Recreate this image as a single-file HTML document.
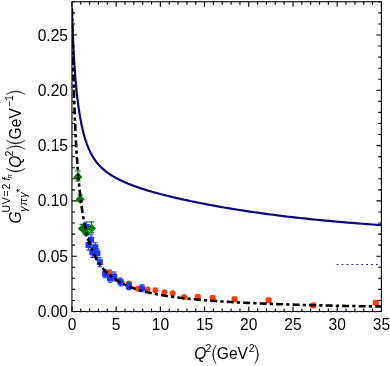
<!DOCTYPE html>
<html><head><meta charset="utf-8"><style>html,body{margin:0;padding:0;background:#fff;width:390px;height:366px;overflow:hidden}</style></head><body>
<svg width="390" height="366" viewBox="0 0 390 366" style="position:absolute;left:0;top:0">
<rect width="390" height="366" fill="#fff"/>
<defs><clipPath id="c"><rect x="71.95" y="1.75" width="309.45" height="309.75"/></clipPath></defs>
<g clip-path="url(#c)">
<path d="M336.6,264.5 H379" stroke="#2a2ab8" stroke-width="1" stroke-dasharray="1.9,3.02" fill="none"/>
<path d="M71.90,7.56 L71.93,8.68 L71.97,9.79 L72.00,10.91 L72.03,12.03 L72.07,13.16 L72.10,14.28 L72.14,15.41 L72.18,16.54 L72.22,17.67 L72.25,18.81 L72.29,19.95 L72.33,21.09 L72.37,22.23 L72.41,23.37 L72.45,24.52 L72.50,25.66 L72.54,26.81 L72.58,27.96 L72.63,29.11 L72.67,30.26 L72.72,31.42 L72.77,32.57 L72.81,33.73 L72.86,34.88 L72.91,36.04 L72.96,37.20 L73.01,38.36 L73.06,39.51 L73.12,40.67 L73.17,41.83 L73.23,43.00 L73.28,44.16 L73.34,45.32 L73.39,46.48 L73.45,47.64 L73.51,48.80 L73.57,49.96 L73.63,51.12 L73.70,52.28 L73.76,53.44 L73.83,54.60 L73.89,55.76 L73.96,56.92 L74.03,58.08 L74.10,59.23 L74.17,60.39 L74.24,61.55 L74.31,62.70 L74.39,63.85 L74.46,65.00 L74.54,66.15 L74.62,67.30 L74.70,68.45 L74.78,69.59 L74.86,70.74 L74.94,71.88 L75.03,73.02 L75.11,74.16 L75.20,75.30 L75.29,76.43 L75.38,77.56 L75.48,78.69 L75.57,79.82 L75.67,80.95 L75.76,82.07 L75.86,83.19 L75.96,84.31 L76.07,85.42 L76.17,86.53 L76.28,87.64 L76.38,88.75 L76.49,89.85 L76.61,90.95 L76.72,92.04 L76.84,93.14 L76.95,94.23 L77.07,95.31 L77.20,96.40 L77.32,97.47 L77.45,98.55 L77.57,99.62 L77.70,100.69 L77.84,101.75 L77.97,102.81 L78.11,103.86 L78.25,104.91 L78.39,105.96 L78.53,107.00 L78.68,108.04 L78.83,109.07 L78.98,110.10 L79.14,111.12 L79.30,112.14 L79.46,113.15 L79.62,114.16 L79.78,115.16 L79.95,116.16 L80.12,117.16 L80.30,118.14 L80.48,119.12 L80.66,120.10 L80.84,121.07 L81.03,122.04 L81.22,122.99 L81.41,123.95 L81.60,124.89 L81.80,125.84 L82.01,126.77 L82.21,127.70 L82.42,128.62 L82.64,129.54 L82.86,130.45 L83.08,131.35 L83.30,132.25 L83.53,133.14 L83.77,134.02 L84.00,134.90 L84.24,135.76 L84.49,136.63 L84.74,137.48 L84.99,138.33 L85.25,139.17 L85.51,140.00 L85.78,140.83 L86.05,141.64 L86.33,142.45 L86.61,143.26 L86.89,144.05 L87.19,144.84 L87.48,145.62 L87.78,146.39 L88.09,147.15 L88.40,147.90 L88.72,148.65 L89.04,149.39 L89.37,150.12 L89.70,150.84 L90.04,151.55 L90.38,152.25 L90.74,152.95 L91.09,153.64 L91.46,154.32 L91.83,154.99 L92.20,155.66 L92.58,156.31 L92.97,156.96 L93.37,157.60 L93.77,158.24 L94.18,158.86 L94.60,159.48 L95.02,160.09 L95.45,160.70 L95.89,161.30 L96.33,161.89 L96.79,162.47 L97.25,163.04 L97.72,163.61 L98.19,164.17 L98.68,164.73 L99.17,165.28 L99.68,165.82 L100.19,166.35 L100.71,166.88 L101.24,167.40 L101.77,167.91 L102.32,168.42 L102.88,168.93 L103.44,169.42 L104.02,169.91 L104.60,170.40 L105.20,170.88 L105.81,171.35 L106.42,171.83 L107.05,172.29 L107.69,172.76 L108.34,173.21 L109.00,173.67 L109.67,174.12 L110.35,174.57 L111.05,175.02 L111.75,175.46 L112.47,175.90 L113.20,176.34 L113.95,176.78 L114.70,177.21 L115.47,177.64 L116.26,178.07 L117.05,178.50 L117.86,178.93 L118.69,179.35 L119.53,179.77 L120.38,180.19 L121.25,180.61 L122.13,181.03 L123.03,181.44 L123.94,181.86 L124.87,182.27 L125.81,182.68 L126.77,183.09 L127.75,183.50 L128.74,183.91 L129.76,184.31 L130.79,184.72 L131.83,185.12 L132.90,185.53 L133.98,185.93 L135.08,186.33 L136.20,186.73 L137.34,187.13 L138.50,187.54 L139.68,187.94 L140.88,188.34 L142.10,188.74 L143.34,189.14 L144.60,189.54 L145.89,189.94 L147.20,190.34 L148.53,190.74 L149.88,191.14 L151.25,191.54 L152.65,191.94 L154.07,192.34 L155.52,192.74 L156.99,193.15 L158.49,193.55 L160.02,193.95 L161.57,194.36 L163.14,194.77 L164.75,195.17 L166.38,195.58 L168.04,195.99 L169.73,196.40 L171.44,196.82 L173.19,197.23 L174.97,197.65 L176.77,198.06 L178.61,198.48 L180.48,198.90 L182.38,199.32 L184.32,199.75 L186.29,200.17 L188.29,200.60 L190.33,201.03 L192.40,201.46 L194.51,201.90 L196.65,202.33 L198.83,202.77 L201.05,203.21 L203.30,203.66 L205.60,204.10 L207.93,204.55 L210.31,204.99 L212.72,205.44 L215.18,205.89 L217.68,206.35 L220.22,206.80 L222.81,207.25 L225.44,207.71 L228.12,208.16 L230.84,208.62 L233.61,209.07 L236.43,209.53 L239.29,209.98 L242.21,210.44 L245.17,210.90 L248.19,211.35 L251.26,211.80 L254.38,212.26 L257.55,212.71 L260.78,213.16 L264.07,213.61 L267.41,214.06 L270.81,214.51 L274.26,214.96 L277.78,215.40 L281.36,215.85 L285.00,216.29 L288.70,216.73 L292.47,217.16 L296.30,217.60 L300.19,218.03 L304.16,218.46 L308.19,218.88 L312.29,219.31 L316.46,219.73 L320.70,220.15 L325.02,220.56 L329.41,220.97 L333.88,221.38 L338.42,221.78 L343.04,222.18 L347.74,222.57 L352.53,222.96 L357.39,223.35 L362.34,223.73 L367.37,224.11 L372.49,224.48 L377.70,224.85 L383.00,225.21" stroke="#0b0b80" stroke-width="2.2" fill="none" stroke-linejoin="round"/>
</g>
<circle cx="109.5" cy="272.2" r="3.0" fill="#ff3d0a"/>
<circle cx="113.9" cy="277.0" r="2.4" fill="#ff3d0a"/>
<circle cx="118.2" cy="280.5" r="2.4" fill="#ff3d0a"/>
<circle cx="122.6" cy="283.0" r="2.4" fill="#ff3d0a"/>
<circle cx="129.0" cy="283.4" r="3.0" fill="#ff3d0a"/>
<circle cx="138.0" cy="288.7" r="3.0" fill="#ff3d0a"/>
<circle cx="147.5" cy="289.6" r="3.0" fill="#ff3d0a"/>
<circle cx="155.4" cy="290.3" r="3.0" fill="#ff3d0a"/>
<circle cx="164.4" cy="292.2" r="3.0" fill="#ff3d0a"/>
<circle cx="172.7" cy="293.2" r="3.0" fill="#ff3d0a"/>
<circle cx="184.2" cy="297.1" r="3.0" fill="#ff3d0a"/>
<circle cx="313.3" cy="305.4" r="3.2" fill="#ff3d0a"/>
<rect x="194.7" y="294.0" width="6" height="6" rx="1.6" fill="#ff3d0a"/>
<rect x="209.7" y="295.0" width="6" height="6" rx="1.6" fill="#ff3d0a"/>
<rect x="231.6" y="296.2" width="6" height="6" rx="1.6" fill="#ff3d0a"/>
<rect x="265.6" y="297.3" width="6" height="6" rx="1.6" fill="#ff3d0a"/>
<rect x="372.9" y="299.8" width="6" height="6" rx="1.6" fill="#ff3d0a"/>
<path d="M86.6,222.0V232.0M84.4,222.0h4.4M84.4,232.0h4.4" stroke="#1a38ff" stroke-width="1.1" fill="none"/>
<rect x="83.6" y="224.0" width="6" height="6" fill="#1a38ff"/>
<path d="M88.5,240.0V250.0M86.3,240.0h4.4M86.3,250.0h4.4" stroke="#1a38ff" stroke-width="1.1" fill="none"/>
<rect x="85.5" y="242.0" width="6" height="6" fill="#1a38ff"/>
<path d="M91.0,234.7V244.7M88.8,234.7h4.4M88.8,244.7h4.4" stroke="#1a38ff" stroke-width="1.1" fill="none"/>
<rect x="88.0" y="236.7" width="6" height="6" fill="#1a38ff"/>
<path d="M92.4,247.4V257.4M90.2,247.4h4.4M90.2,257.4h4.4" stroke="#1a38ff" stroke-width="1.1" fill="none"/>
<rect x="89.4" y="249.4" width="6" height="6" fill="#1a38ff"/>
<path d="M95.3,242.8V251.8M93.1,242.8h4.4M93.1,251.8h4.4" stroke="#1a38ff" stroke-width="1.1" fill="none"/>
<rect x="92.3" y="244.3" width="6" height="6" fill="#1a38ff"/>
<path d="M97.4,248.7V257.7M95.2,248.7h4.4M95.2,257.7h4.4" stroke="#1a38ff" stroke-width="1.1" fill="none"/>
<rect x="94.4" y="250.2" width="6" height="6" fill="#1a38ff"/>
<path d="M99.8,257.7V266.7M97.6,257.7h4.4M97.6,266.7h4.4" stroke="#1a38ff" stroke-width="1.1" fill="none"/>
<rect x="96.8" y="259.2" width="6" height="6" fill="#1a38ff"/>
<path d="M105.1,269.8V277.8M102.9,269.8h4.4M102.9,277.8h4.4" stroke="#1a38ff" stroke-width="1.1" fill="none"/>
<rect x="102.1" y="270.8" width="6" height="6" fill="#1a38ff"/>
<path d="M110.0,274.2V282.2M107.8,274.2h4.4M107.8,282.2h4.4" stroke="#1a38ff" stroke-width="1.1" fill="none"/>
<rect x="107.0" y="275.2" width="6" height="6" fill="#1a38ff"/>
<path d="M114.2,272.0V281.0M112.0,272.0h4.4M112.0,281.0h4.4" stroke="#1a38ff" stroke-width="1.1" fill="none"/>
<rect x="111.2" y="273.5" width="6" height="6" fill="#1a38ff"/>
<path d="M120.5,278.0V286.0M118.3,278.0h4.4M118.3,286.0h4.4" stroke="#1a38ff" stroke-width="1.1" fill="none"/>
<rect x="117.5" y="279.0" width="6" height="6" fill="#1a38ff"/>
<path d="M128.9,282.6V289.6M126.7,282.6h4.4M126.7,289.6h4.4" stroke="#1a38ff" stroke-width="1.1" fill="none"/>
<rect x="125.9" y="283.1" width="6" height="6" fill="#1a38ff"/>
<path d="M141.9,284.8V291.8M139.7,284.8h4.4M139.7,291.8h4.4" stroke="#1a38ff" stroke-width="1.1" fill="none"/>
<rect x="138.9" y="285.3" width="6" height="6" fill="#1a38ff"/>
<path d="M77.9,171.0V181.0M75.1,171.0h5.6M75.1,181.0h5.6" stroke="#007d00" stroke-width="1.2" fill="none"/>
<path d="M73.3,177.0L77.9,172.5L82.5,177.0L77.9,181.5Z" fill="#007d00"/>
<path d="M80.2,195.0V201.4M77.4,195.0h5.6M77.4,201.4h5.6" stroke="#007d00" stroke-width="1.2" fill="none"/>
<path d="M75.6,199.2L80.2,194.7L84.8,199.2L80.2,203.7Z" fill="#007d00"/>
<path d="M82.4,224.4V230.4M79.6,224.4h5.6M79.6,230.4h5.6" stroke="#007d00" stroke-width="1.2" fill="none"/>
<path d="M77.8,228.4L82.4,223.9L87.0,228.4L82.4,232.9Z" fill="#007d00"/>
<path d="M86.2,228.8V234.8M83.4,228.8h5.6M83.4,234.8h5.6" stroke="#007d00" stroke-width="1.2" fill="none"/>
<path d="M81.6,232.8L86.2,228.3L90.8,232.8L86.2,237.3Z" fill="#007d00"/>
<path d="M91.5,221.8V232.8M88.7,221.8h5.6M88.7,232.8h5.6" stroke="#007d00" stroke-width="1.2" fill="none"/>
<path d="M86.9,228.3L91.5,223.8L96.1,228.3L91.5,232.8Z" fill="#007d00"/>
<g clip-path="url(#c)">
<path d="M71.95,8.46 L71.95,8.46 L71.95,8.49 L71.95,8.55 L71.95,8.64 L71.96,8.78 L71.96,8.96 L71.96,9.20 L71.97,9.49 L71.97,9.84 L71.98,10.25 L71.99,10.73 L72.00,11.28 L72.01,11.90 L72.02,12.59 L72.03,13.36 L72.05,14.20 L72.07,15.12 L72.08,16.11 L72.10,17.19 L72.12,18.35 L72.15,19.58 L72.17,20.90 L72.20,22.29 L72.22,23.77 L72.25,25.32 L72.28,26.95 L72.32,28.66 L72.35,30.44 L72.39,32.30 L72.43,34.23 L72.47,36.23 L72.51,38.30 L72.55,40.43 L72.60,42.63 L72.65,44.89 L72.70,47.21 L72.76,49.59 L72.81,52.01 L72.87,54.49 L72.93,57.02 L72.99,59.59 L73.06,62.20 L73.12,64.85 L73.19,67.54 L73.26,70.25 L73.34,73.00 L73.41,75.78 L73.49,78.57 L73.58,81.39 L73.66,84.22 L73.75,87.07 L73.84,89.93 L73.93,92.80 L74.02,95.67 L74.12,98.55 L74.22,101.42 L74.32,104.30 L74.43,107.17 L74.54,110.04 L74.65,112.89 L74.76,115.74 L74.88,118.57 L75.00,121.39 L75.12,124.20 L75.24,126.98 L75.37,129.75 L75.50,132.49 L75.64,135.21 L75.77,137.91 L75.91,140.59 L76.06,143.24 L76.20,145.86 L76.35,148.45 L76.51,151.02 L76.66,153.55 L76.82,156.06 L76.98,158.53 L77.15,160.98 L77.31,163.39 L77.49,165.77 L77.66,168.12 L77.84,170.43 L78.02,172.71 L78.20,174.96 L78.39,177.18 L78.58,179.36 L78.78,181.51 L78.98,183.63 L79.18,185.71 L79.38,187.76 L79.59,189.78 L79.80,191.76 L80.02,193.72 L80.23,195.64 L80.46,197.52 L80.68,199.38 L80.91,201.20 L81.14,202.99 L81.38,204.76 L81.62,206.49 L81.86,208.19 L82.11,209.86 L82.36,211.50 L82.62,213.11 L82.87,214.69 L83.14,216.25 L83.40,217.77 L83.67,219.27 L83.95,220.74 L84.22,222.19 L84.50,223.61 L84.79,225.00 L85.08,226.37 L85.37,227.71 L85.66,229.03 L85.96,230.32 L86.27,231.59 L86.58,232.83 L86.89,234.06 L87.20,235.26 L87.52,236.43 L87.85,237.59 L88.18,238.72 L88.51,239.84 L88.84,240.93 L89.18,242.00 L89.53,243.06 L89.88,244.09 L90.23,245.10 L90.58,246.10 L90.94,247.08 L91.31,248.04 L91.68,248.98 L92.05,249.90 L92.43,250.81 L92.81,251.70 L93.19,252.57 L93.58,253.43 L93.98,254.27 L94.38,255.10 L94.78,255.91 L95.19,256.71 L95.60,257.49 L96.01,258.26 L96.43,259.02 L96.86,259.76 L97.29,260.49 L97.72,261.20 L98.16,261.91 L98.60,262.60 L99.04,263.27 L99.50,263.94 L99.95,264.59 L100.41,265.23 L100.87,265.86 L101.34,266.48 L101.82,267.09 L102.29,267.69 L102.78,268.28 L103.26,268.86 L103.76,269.42 L104.25,269.98 L104.75,270.53 L105.26,271.07 L105.77,271.60 L106.28,272.12 L106.80,272.63 L107.33,273.13 L107.86,273.63 L108.39,274.11 L108.93,274.59 L109.47,275.06 L110.02,275.52 L110.57,275.98 L111.13,276.42 L111.69,276.86 L112.26,277.30 L112.83,277.72 L113.40,278.14 L113.99,278.55 L114.57,278.96 L115.16,279.35 L115.76,279.74 L116.36,280.13 L116.97,280.51 L117.58,280.88 L118.19,281.25 L118.81,281.61 L119.44,281.97 L120.07,282.32 L120.71,282.66 L121.35,283.00 L121.99,283.33 L122.64,283.66 L123.30,283.98 L123.96,284.30 L124.63,284.62 L125.30,284.92 L125.97,285.23 L126.65,285.53 L127.34,285.82 L128.03,286.11 L128.73,286.40 L129.43,286.68 L130.14,286.96 L130.85,287.23 L131.57,287.50 L132.29,287.76 L133.02,288.02 L133.75,288.28 L134.49,288.53 L135.23,288.78 L135.98,289.03 L136.74,289.27 L137.49,289.51 L138.26,289.75 L139.03,289.98 L139.80,290.21 L140.59,290.43 L141.37,290.65 L142.16,290.87 L142.96,291.09 L143.76,291.30 L144.57,291.51 L145.38,291.72 L146.20,291.92 L147.03,292.12 L147.86,292.32 L148.69,292.52 L149.53,292.71 L150.38,292.90 L151.23,293.09 L152.09,293.27 L152.95,293.46 L153.82,293.64 L154.69,293.81 L155.57,293.99 L156.46,294.16 L157.35,294.33 L158.24,294.50 L159.14,294.67 L160.05,294.83 L160.96,294.99 L161.88,295.15 L162.81,295.31 L163.74,295.47 L164.67,295.62 L165.61,295.77 L166.56,295.92 L167.51,296.07 L168.47,296.21 L169.44,296.36 L170.41,296.50 L171.38,296.64 L172.36,296.78 L173.35,296.91 L174.34,297.05 L175.34,297.18 L176.35,297.31 L177.36,297.44 L178.37,297.57 L179.40,297.70 L180.43,297.82 L181.46,297.94 L182.50,298.07 L183.54,298.19 L184.60,298.31 L185.65,298.42 L186.72,298.54 L187.79,298.65 L188.86,298.77 L189.94,298.88 L191.03,298.99 L192.13,299.10 L193.23,299.21 L194.33,299.31 L195.44,299.42 L196.56,299.52 L197.68,299.62 L198.81,299.73 L199.95,299.83 L201.09,299.93 L202.24,300.02 L203.39,300.12 L204.55,300.22 L205.72,300.31 L206.89,300.41 L208.07,300.50 L209.25,300.59 L210.45,300.68 L211.64,300.77 L212.85,300.86 L214.06,300.95 L215.27,301.03 L216.49,301.12 L217.72,301.20 L218.95,301.29 L220.20,301.37 L221.44,301.45 L222.70,301.53 L223.95,301.61 L225.22,301.69 L226.49,301.77 L227.77,301.84 L229.06,301.92 L230.35,302.00 L231.64,302.07 L232.95,302.15 L234.26,302.22 L235.57,302.29 L236.90,302.36 L238.23,302.43 L239.56,302.50 L240.90,302.57 L242.25,302.64 L243.61,302.71 L244.97,302.78 L246.33,302.84 L247.71,302.91 L249.09,302.97 L250.48,303.04 L251.87,303.10 L253.27,303.17 L254.68,303.23 L256.09,303.29 L257.51,303.35 L258.94,303.41 L260.37,303.47 L261.81,303.53 L263.25,303.59 L264.71,303.65 L266.17,303.70 L267.63,303.76 L269.10,303.82 L270.58,303.87 L272.07,303.93 L273.56,303.98 L275.06,304.04 L276.57,304.09 L278.08,304.14 L279.60,304.20 L281.12,304.25 L282.66,304.30 L284.19,304.35 L285.74,304.40 L287.29,304.45 L288.85,304.50 L290.42,304.55 L291.99,304.60 L293.57,304.65 L295.16,304.69 L296.75,304.74 L298.35,304.79 L299.96,304.83 L301.57,304.88 L303.19,304.93 L304.82,304.97 L306.45,305.01 L308.09,305.06 L309.74,305.10 L311.40,305.15 L313.06,305.19 L314.73,305.23 L316.40,305.27 L318.08,305.32 L319.77,305.36 L321.47,305.40 L323.17,305.44 L324.88,305.48 L326.60,305.52 L328.32,305.56 L330.06,305.60 L331.79,305.64 L333.54,305.67 L335.29,305.71 L337.05,305.75 L338.82,305.79 L340.59,305.82 L342.37,305.86 L344.16,305.90 L345.95,305.93 L347.75,305.97 L349.56,306.00 L351.38,306.04 L353.20,306.07 L355.03,306.11 L356.87,306.14 L358.71,306.18 L360.56,306.21 L362.42,306.24 L364.29,306.28 L366.16,306.31 L368.04,306.34 L369.93,306.37 L371.82,306.40 L373.72,306.44 L375.63,306.47 L377.55,306.50 L379.47,306.53 L381.40,306.56" stroke="#000" stroke-width="2.6" stroke-dasharray="7.0,3.1,3.3,3.1" stroke-dashoffset="0" fill="none"/>
</g>
<rect x="71.95" y="1.75" width="309.45" height="309.75" fill="none" stroke="#000" stroke-width="1.1"/>
<path d="M73.45,311.9H381.4" stroke="#3a3ab8" stroke-width="1" stroke-dasharray="2.2,4.2" fill="none" opacity="0.75"/>
<path d="M71.95,311.5v-5.0M71.95,1.75v5.0M80.79,311.5v-3.1M80.79,1.75v3.1M89.63,311.5v-3.1M89.63,1.75v3.1M98.47,311.5v-3.1M98.47,1.75v3.1M107.32,311.5v-3.1M107.32,1.75v3.1M116.16,311.5v-5.0M116.16,1.75v5.0M125.00,311.5v-3.1M125.00,1.75v3.1M133.84,311.5v-3.1M133.84,1.75v3.1M142.68,311.5v-3.1M142.68,1.75v3.1M151.52,311.5v-3.1M151.52,1.75v3.1M160.36,311.5v-5.0M160.36,1.75v5.0M169.21,311.5v-3.1M169.21,1.75v3.1M178.05,311.5v-3.1M178.05,1.75v3.1M186.89,311.5v-3.1M186.89,1.75v3.1M195.73,311.5v-3.1M195.73,1.75v3.1M204.57,311.5v-5.0M204.57,1.75v5.0M213.41,311.5v-3.1M213.41,1.75v3.1M222.25,311.5v-3.1M222.25,1.75v3.1M231.10,311.5v-3.1M231.10,1.75v3.1M239.94,311.5v-3.1M239.94,1.75v3.1M248.78,311.5v-5.0M248.78,1.75v5.0M257.62,311.5v-3.1M257.62,1.75v3.1M266.46,311.5v-3.1M266.46,1.75v3.1M275.30,311.5v-3.1M275.30,1.75v3.1M284.14,311.5v-3.1M284.14,1.75v3.1M292.99,311.5v-5.0M292.99,1.75v5.0M301.83,311.5v-3.1M301.83,1.75v3.1M310.67,311.5v-3.1M310.67,1.75v3.1M319.51,311.5v-3.1M319.51,1.75v3.1M328.35,311.5v-3.1M328.35,1.75v3.1M337.19,311.5v-5.0M337.19,1.75v5.0M346.03,311.5v-3.1M346.03,1.75v3.1M354.88,311.5v-3.1M354.88,1.75v3.1M363.72,311.5v-3.1M363.72,1.75v3.1M372.56,311.5v-3.1M372.56,1.75v3.1M381.40,311.5v-5.0M381.40,1.75v5.0M71.95,311.50h5.0M381.4,311.50h-5.0M71.95,300.44h3.1M381.4,300.44h-3.1M71.95,289.38h3.1M381.4,289.38h-3.1M71.95,278.32h3.1M381.4,278.32h-3.1M71.95,267.26h3.1M381.4,267.26h-3.1M71.95,256.20h5.0M381.4,256.20h-5.0M71.95,245.14h3.1M381.4,245.14h-3.1M71.95,234.08h3.1M381.4,234.08h-3.1M71.95,223.02h3.1M381.4,223.02h-3.1M71.95,211.96h3.1M381.4,211.96h-3.1M71.95,200.90h5.0M381.4,200.90h-5.0M71.95,189.84h3.1M381.4,189.84h-3.1M71.95,178.78h3.1M381.4,178.78h-3.1M71.95,167.72h3.1M381.4,167.72h-3.1M71.95,156.66h3.1M381.4,156.66h-3.1M71.95,145.60h5.0M381.4,145.60h-5.0M71.95,134.54h3.1M381.4,134.54h-3.1M71.95,123.48h3.1M381.4,123.48h-3.1M71.95,112.42h3.1M381.4,112.42h-3.1M71.95,101.36h3.1M381.4,101.36h-3.1M71.95,90.30h5.0M381.4,90.30h-5.0M71.95,79.24h3.1M381.4,79.24h-3.1M71.95,68.18h3.1M381.4,68.18h-3.1M71.95,57.12h3.1M381.4,57.12h-3.1M71.95,46.06h3.1M381.4,46.06h-3.1M71.95,35.00h5.0M381.4,35.00h-5.0M71.95,23.94h3.1M381.4,23.94h-3.1M71.95,12.88h3.1M381.4,12.88h-3.1M71.95,1.82h3.1M381.4,1.82h-3.1" stroke="#000" stroke-width="1.1" fill="none"/>
<g font-family="Liberation Sans, sans-serif" font-size="15.6" fill="#000" style="filter:grayscale(1)">
<text x="72.0" y="330.1" text-anchor="middle">0</text>
<text x="116.2" y="330.1" text-anchor="middle">5</text>
<text x="160.4" y="330.1" text-anchor="middle">10</text>
<text x="204.6" y="330.1" text-anchor="middle">15</text>
<text x="248.8" y="330.1" text-anchor="middle">20</text>
<text x="293.0" y="330.1" text-anchor="middle">25</text>
<text x="337.2" y="330.1" text-anchor="middle">30</text>
<text x="381.4" y="330.1" text-anchor="middle">35</text>
<text x="68" y="317.0" text-anchor="end">0.00</text>
<text x="68" y="261.7" text-anchor="end">0.05</text>
<text x="68" y="206.4" text-anchor="end">0.10</text>
<text x="68" y="151.1" text-anchor="end">0.15</text>
<text x="68" y="95.8" text-anchor="end">0.20</text>
<text x="68" y="40.5" text-anchor="end">0.25</text>
<text x="194.33" y="359.30" font-size="15.6" font-style="italic">Q</text>
<text x="205.47" y="351.90" font-size="10.5">2</text>
<path d="M216.10,345.00 Q209.10,354.50 216.10,364.00 Q210.80,354.50 216.10,345.00Z" fill="#000" stroke="#000" stroke-width="0.4" stroke-linejoin="round"/>
<text x="216.82" y="359.30" font-size="15.6">GeV</text>
<text x="248.87" y="351.90" font-size="10.5">2</text>
<path d="M254.90,345.00 Q261.90,354.50 254.90,364.00 Q260.20,354.50 254.90,345.00Z" fill="#000" stroke="#000" stroke-width="0.4" stroke-linejoin="round"/>
<g transform="rotate(-90)">
<text x="-223.57" y="20.50" font-size="15.6" font-style="italic">G</text>
<text x="-212.61" y="9.90" font-size="10.5" letter-spacing="0.8">UV=2</text>
<text x="-180.55" y="9.90" font-size="10.5" font-style="italic">f</text>
<text x="-178.69" y="12.30" font-size="6.5" font-style="italic">π</text>
<text x="-211.87" y="26.50" font-size="10.5" font-style="italic" letter-spacing="1.0">γπγ</text>
<text x="-192.57" y="23.70" font-size="10.5">*</text>
<path d="M-168.40,6.20 Q-175.40,15.70 -168.40,25.20 Q-173.70,15.70 -168.40,6.20Z" fill="#000" stroke="#000" stroke-width="0.4" stroke-linejoin="round"/>
<text x="-167.67" y="20.50" font-size="15.6" font-style="italic">Q</text>
<text x="-156.53" y="13.10" font-size="10.5">2</text>
<path d="M-149.20,6.20 Q-142.20,15.70 -149.20,25.20 Q-143.90,15.70 -149.20,6.20Z" fill="#000" stroke="#000" stroke-width="0.4" stroke-linejoin="round"/>
<path d="M-140.40,6.20 Q-147.40,15.70 -140.40,25.20 Q-145.70,15.70 -140.40,6.20Z" fill="#000" stroke="#000" stroke-width="0.4" stroke-linejoin="round"/>
<text x="-139.38" y="20.50" font-size="15.6">GeV</text>
<text x="-107.12" y="13.10" font-size="10.5">−1</text>
<path d="M-94.40,6.20 Q-87.40,15.70 -94.40,25.20 Q-89.10,15.70 -94.40,6.20Z" fill="#000" stroke="#000" stroke-width="0.4" stroke-linejoin="round"/>
</g>
</g>
</svg>
</body></html>
